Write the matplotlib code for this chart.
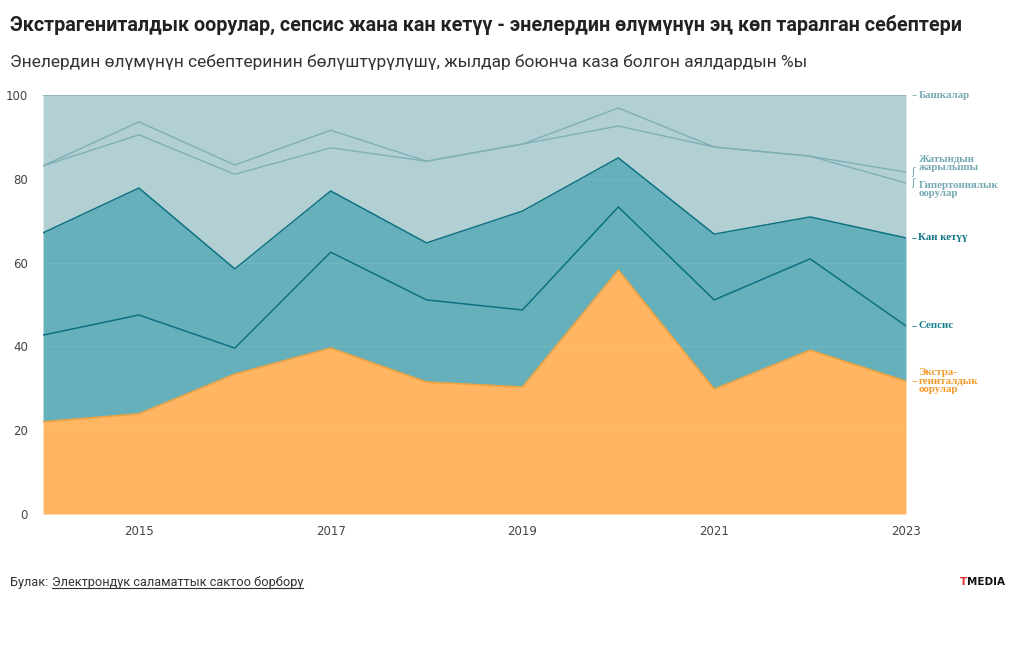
import numpy as np
import matplotlib
matplotlib.use("Agg")
import matplotlib.pyplot as plt

# Cumulative shares (% of cases)
years = [2014, 2015, 2016, 2017, 2018, 2019, 2020, 2021, 2022, 2023]
extragenital = [22.0, 23.9, 33.4, 39.6, 31.5, 30.3, 58.2, 29.8, 39.1, 31.7]
sepsis_top = [42.7, 47.5, 39.6, 62.5, 51.1, 48.7, 73.3, 51.1, 60.9, 44.9]
bleeding_top = [67.1, 77.8, 58.5, 77.1, 64.7, 72.3, 85.0, 66.8, 70.9, 65.9]
hypertension_top = [83.1, 90.5, 81.1, 87.4, 84.2, 88.3, 92.6, 87.6, 85.4, 79.0]
rupture_top = [83.1, 93.6, 83.3, 91.6, 84.2, 88.3, 96.9, 87.6, 85.4, 81.6]
others_top = [100] * 10

xticks = [2015, 2017, 2019, 2021, 2023]
yticks = [0, 20, 40, 60, 80, 100]

title = "Экстрагениталдык оорулар, сепсис жана кан кетүү - энелердин өлүмүнүн эң көп таралган себептери"
subtitle = "Энелердин өлүмүнүн себептеринин бөлүштүрүлүшү, жылдар боюнча каза болгон аялдардын %ы"

ORANGE = "#FFB562"
ORANGE_LINE = "#F2A23C"
TEAL = "#66B0BB"
TEAL_LINE = "#0C7282"
LIGHT = "#B2D0D3"
LIGHT_LINE = "#7FAFB6"

cond = ["Liberation Sans Narrow", "Roboto", "DejaVu Sans"]
serif = ["Liberation Serif", "DejaVu Serif"]

fig = plt.figure(figsize=(10.2, 6.5), dpi=100)
ax = fig.add_axes([0.0422, 0.2092, 0.846, 0.6446])

x = np.array(years)
zero = np.zeros(len(years))
ax.fill_between(x, zero, extragenital, color=ORANGE, lw=0, zorder=1)
ax.fill_between(x, extragenital, bleeding_top, color=TEAL, lw=0, zorder=1)
ax.fill_between(x, bleeding_top, others_top, color=LIGHT, lw=0, zorder=1)

# faint gridlines through the areas
for v in yticks[1:-1]:
    ax.axhline(v, color="white", lw=0.8, alpha=0.07, zorder=2)

ax.plot(x, extragenital, color=ORANGE_LINE, lw=1.2, zorder=3)
ax.plot(x, sepsis_top, color=TEAL_LINE, lw=1.1, zorder=3)
ax.plot(x, bleeding_top, color=TEAL_LINE, lw=1.1, zorder=3)
ax.plot(x, hypertension_top, color=LIGHT_LINE, lw=1.0, zorder=3)
ax.plot(x, rupture_top, color=LIGHT_LINE, lw=1.0, zorder=3)
ax.plot(x, others_top, color=LIGHT_LINE, lw=1.2, zorder=3)

ax.set_xlim(2014, 2023)
ax.set_ylim(0, 100)
ax.set_xticks(xticks)
ax.set_xticklabels([str(t) for t in xticks])
ax.set_yticks(yticks)
ax.tick_params(axis="both", length=0, labelsize=8.5, labelcolor="#444444")
ax.tick_params(axis="y", pad=11)
ax.tick_params(axis="x", pad=8)
for s in ax.spines.values():
    s.set_visible(False)

# right-hand labels
def side_label(yv, text, color, ytext=None, mark="–"):
    if ytext is None:
        ytext = yv
    ax.annotate(mark, xy=(2023, yv), xytext=(4, 0), textcoords="offset points",
                ha="left", va="center", fontsize=7.5, color=color, annotation_clip=False)
    ax.annotate(text, xy=(2023, ytext), xytext=(9, 0), textcoords="offset points",
                ha="left", va="center", fontsize=7.8, color=color, fontweight="bold",
                family=serif, linespacing=0.9, annotation_clip=False)

side_label(100, "Башкалар", "#74A9B2")
side_label(81.6, "Жатындын\nжарылышы", "#74A9B2", ytext=83.6, mark="ʃ")
side_label(79.0, "Гипертониялык\nоорулар", "#74A9B2", ytext=77.5, mark="ʃ")
side_label(65.9, "Кан кетүү", "#0E7383")
side_label(44.9, "Сепсис", "#17808E")
side_label(31.7, "Экстра-\nгениталдык\nоорулар", "#F39A2A")

fig.text(0.010, 0.962, title, fontsize=14.2, fontweight="bold", color="#222222",
         family=cond, va="center")
fig.text(0.010, 0.904, subtitle, fontsize=12.5, color="#333333", family=cond, va="center")

t1 = fig.text(0.010, 0.104, "Булак: ", fontsize=9.2, color="#333333", family=cond, va="center")
fig.canvas.draw()
bb = t1.get_window_extent()
x2 = bb.x1 / fig.bbox.width
t2 = fig.text(x2, 0.104, "Электрондук саламаттык сактоо борбору", fontsize=9.2,
              color="#333333", family=cond, va="center")
fig.canvas.draw()
bb2 = t2.get_window_extent()
fig.add_artist(plt.Line2D([bb2.x0 / fig.bbox.width, bb2.x1 / fig.bbox.width],
                          [(bb2.y0 + 0.5) / fig.bbox.height] * 2, color="#333333", lw=0.8))

fig.text(0.948, 0.104, "T", fontsize=7.5, fontweight="bold", color="#E32B2B", va="center", ha="right")
fig.text(0.948, 0.104, "MEDIA", fontsize=7.5, fontweight="bold", color="#111111", va="center", ha="left")

fig.savefig("out.png", dpi=100)
